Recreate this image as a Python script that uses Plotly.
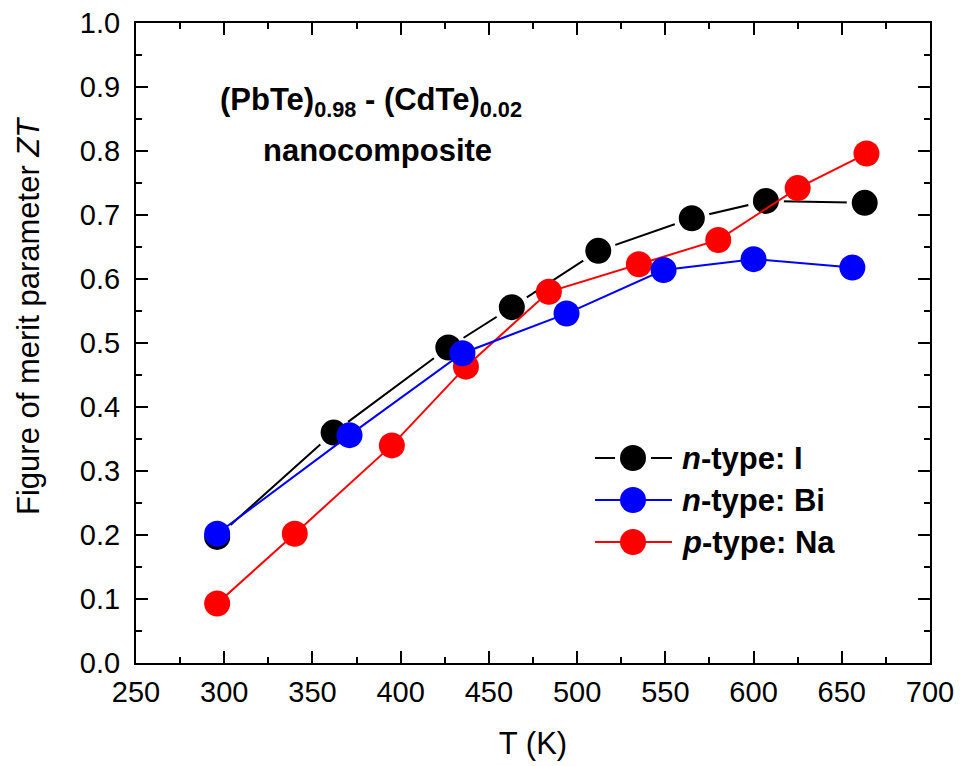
import plotly.graph_objects as go

# ---------------- data ----------------
t_n_i = [296, 362, 427, 463, 512, 565, 607, 663]
zt_n_i = [0.197, 0.360, 0.493, 0.556, 0.644, 0.695, 0.722, 0.719]

t_n_bi = [296, 371, 435, 494, 549, 600, 656]
zt_n_bi = [0.202, 0.356, 0.484, 0.546, 0.614, 0.631, 0.618]

t_p_na = [296, 340, 395, 437, 484, 535, 580, 625, 664]
zt_p_na = [0.093, 0.202, 0.340, 0.463, 0.580, 0.623, 0.661, 0.742, 0.796]

series_names = ["<i>n</i>-type: I", "<i>n</i>-type: Bi", "<i>p</i>-type: Na"]
series_colors = ["#000000", "#0000ff", "#ff0000"]

x_ticks = [250, 300, 350, 400, 450, 500, 550, 600, 650, 700]
y_ticks = [0.0, 0.1, 0.2, 0.3, 0.4, 0.5, 0.6, 0.7, 0.8, 0.9, 1.0]

# ---------------- figure ----------------
FONT = "Liberation Sans, Arial, sans-serif"
W, H = 961, 766
ML, MR, MT, MB = 136, 31, 23, 103
PW, PH = W - ML - MR, H - MT - MB


def px_x(p):
    return (p - ML) / PW


def px_y(p):
    return (H - MB - p) / PH


fig = go.Figure()

# black (drawn first, markers with white ring to create line gaps)
fig.add_trace(go.Scatter(
    x=t_n_i, y=zt_n_i, mode="lines+markers", name=series_names[0],
    line=dict(color=series_colors[0], width=2),
    marker=dict(color=series_colors[0], size=31, line=dict(color="white", width=5)),
    showlegend=False,
))
# red
fig.add_trace(go.Scatter(
    x=t_p_na, y=zt_p_na, mode="lines+markers", name=series_names[2],
    line=dict(color=series_colors[2], width=2),
    marker=dict(color=series_colors[2], size=26, line=dict(width=0)),
    showlegend=False,
))
# blue
fig.add_trace(go.Scatter(
    x=t_n_bi, y=zt_n_bi, mode="lines+markers", name=series_names[1],
    line=dict(color=series_colors[1], width=2),
    marker=dict(color=series_colors[1], size=26, line=dict(width=0)),
    showlegend=False,
))

axis_common = dict(
    showgrid=False, zeroline=False, automargin=False,
    showline=True, linecolor="black", linewidth=2,
    mirror="ticks", ticks="inside", ticklen=12, tickwidth=2, tickcolor="black",
    tickfont=dict(family=FONT, size=29, color="black"),
)

fig.update_xaxes(
    range=[250, 700], tickvals=x_ticks, ticktext=[str(v) for v in x_ticks],
    minor=dict(ticks="inside", ticklen=6, tickwidth=2, tickcolor="black", dtick=25, tick0=250),
    title=dict(text="T (K)", font=dict(family=FONT, size=31, color="black"), standoff=26),
    ticklabelstandoff=2,
    **axis_common,
)
fig.update_yaxes(
    range=[0, 1.0], tickvals=y_ticks, ticktext=[f"{v:.1f}" for v in y_ticks],
    minor=dict(ticks="inside", ticklen=6, tickwidth=2, tickcolor="black", dtick=0.05, tick0=0),
    ticklabelstandoff=8,
    **axis_common,
)

annotations = [
    dict(text="Figure of merit parameter <i>ZT</i>", textangle=-90,
         x=px_x(28), y=px_y(316), xref="paper", yref="paper",
         xanchor="center", yanchor="middle", showarrow=False,
         font=dict(family=FONT, size=31, color="black")),
    dict(text="<b>(PbTe)<sub>0.98</sub> - (CdTe)<sub>0.02</sub></b>",
         x=px_x(371), y=px_y(102), xref="paper", yref="paper",
         xanchor="center", yanchor="middle", showarrow=False,
         font=dict(family=FONT, size=31, color="black")),
    dict(text="<b>nanocomposite</b>",
         x=px_x(377), y=px_y(151), xref="paper", yref="paper",
         xanchor="center", yanchor="middle", showarrow=False,
         font=dict(family=FONT, size=31, color="black")),
]

# custom legend (layout decoration)
shapes = []
legend_rows = [458, 500, 542]
for i, (name, col) in enumerate(zip(series_names, series_colors)):
    yc = px_y(legend_rows[i])
    shapes.append(dict(type="line", xref="paper", yref="paper",
                       x0=px_x(595), x1=px_x(672), y0=yc, y1=yc,
                       line=dict(color=col, width=2)))
    if i == 0:
        shapes.append(dict(type="circle", xref="paper", yref="paper",
                           xsizemode="pixel", ysizemode="pixel",
                           xanchor=px_x(633), yanchor=yc,
                           x0=-18, x1=18, y0=-18, y1=18,
                           fillcolor="white", line=dict(width=0)))
    shapes.append(dict(type="circle", xref="paper", yref="paper",
                       xsizemode="pixel", ysizemode="pixel",
                       xanchor=px_x(633), yanchor=yc,
                       x0=-13, x1=13, y0=-13, y1=13,
                       fillcolor=col, line=dict(width=0)))
    annotations.append(dict(text=f"<b>{name}</b>", x=px_x(680), y=yc,
                            xref="paper", yref="paper", xanchor="left", yanchor="middle",
                            showarrow=False, font=dict(family=FONT, size=31, color="black")))

fig.update_layout(
    width=W, height=H,
    margin=dict(l=ML, r=MR, t=MT, b=MB),
    paper_bgcolor="white", plot_bgcolor="white",
    annotations=annotations, shapes=shapes,
    showlegend=False,
)

fig.write_html("out.html")
